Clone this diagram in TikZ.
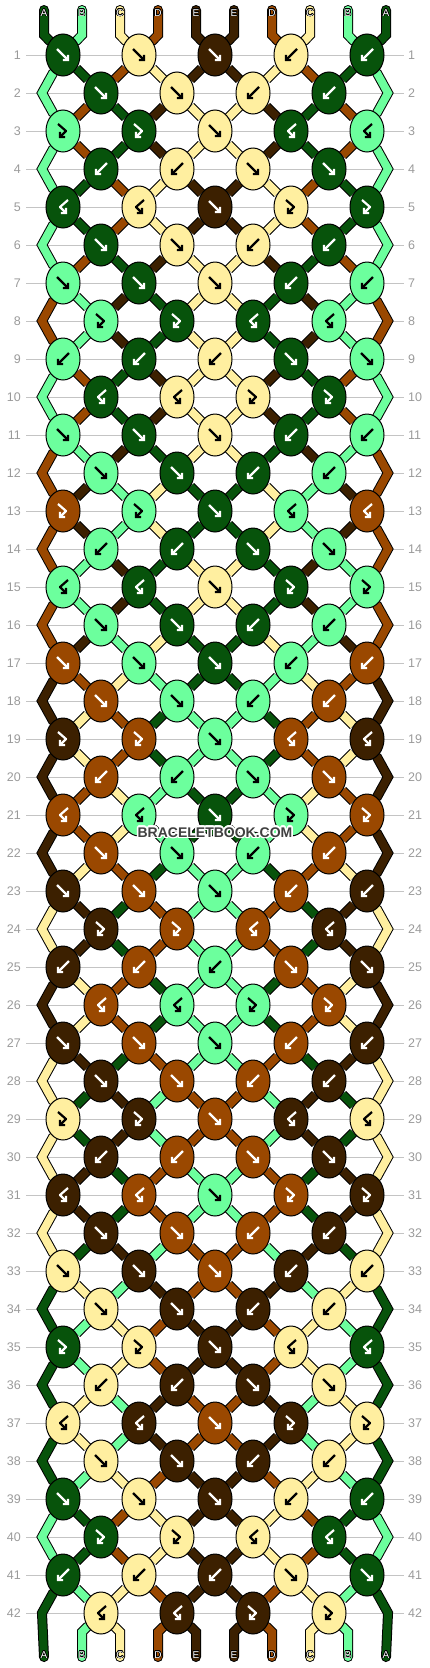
\documentclass[tikz,border=0pt]{standalone}
\usepackage{fontspec}
\setmainfont{Liberation Sans}
\usepackage[copies]{contour}
\usetikzlibrary{shapes.geometric,arrows.meta,backgrounds}

\definecolor{cA}{HTML}{07530B}
\definecolor{cB}{HTML}{6CFF9D}
\definecolor{cC}{HTML}{FFEFA0}
\definecolor{cD}{HTML}{9A4800}
\definecolor{cE}{HTML}{3C2000}
\colorlet{inkA}{white}
\colorlet{inkB}{black}
\colorlet{inkC}{black}
\colorlet{inkD}{white}
\colorlet{inkE}{white}
\definecolor{rowgray}{HTML}{C4C4C4}
\definecolor{numgray}{HTML}{9A9A9A}
\definecolor{logogray}{HTML}{404040}

\tikzset{
  pics/gf/.style={code={\draw[glyph] (-6,-6) -- (6,6);}},
  pics/gb/.style={code={\draw[glyph] (6,-6) -- (-6,6);}},
  pics/gfb/.style={code={\draw[glyph] (-5,-7) -- (3,0) -- (-4,7);}},
  pics/gbf/.style={code={\draw[glyph] (5,-7) -- (-3,0) -- (4,7);}},
}

\begin{document}
\begin{tikzpicture}[x=1pt, y=-1pt,
    knot/.style={ellipse, draw=black, line width=1, minimum width=34, minimum height=42, inner sep=0, fill=c#1},
    strand/.style={draw=black, line width=1, double=c#1, double distance=8},
    glyph/.style={line width=2.2, line join=round, -{Straight Barb[length=3.5pt,width=7.5pt]}},
    rowline/.style={draw=rowgray, line width=1},
    rownum/.style={text=numgray, inner sep=0, font=\fontsize{12.5}{14}\selectfont},
    endlabel/.style={text=white, inner sep=0, font=\fontsize{10}{12}\selectfont},
    logo/.style={text=logogray, inner sep=0, font=\bfseries\fontsize{14}{16}\selectfont}]

\useasboundingbox (0,0) rectangle (430,1668);

% string ends, top and bottom
\foreach \p in {1,...,10} {
  \pgfmathsetmacro\x{44+38*(\p-1)}
  \coordinate (t-\p) at (\x,10);
  \coordinate (u-\p) at (\x,35);
  \coordinate (m-\p) at (\x,1632);
  \coordinate (b-\p) at (\x,1657);
}

% knots in odd rows: colour/type, left half and centre
\foreach \r/\ca/\ta/\cb/\tb/\cc/\tc in {1/A/f/C/f/E/f, 3/B/fb/A/fb/C/f, 5/A/bf/C/bf/E/f,
    7/B/f/A/f/C/f, 9/B/b/A/b/C/b, 11/B/f/A/f/C/f, 13/D/fb/B/fb/A/f, 15/B/bf/A/bf/C/f,
    17/D/f/B/f/A/f, 19/E/fb/D/fb/B/f, 21/D/bf/B/bf/A/f, 23/E/f/D/f/B/f, 25/E/b/D/b/B/b,
    27/E/f/D/f/B/f, 29/C/fb/E/fb/D/f, 31/E/bf/D/bf/B/f, 33/C/f/E/f/D/f, 35/A/fb/C/fb/E/f,
    37/C/bf/E/bf/D/f, 39/A/f/C/f/E/f, 41/A/b/C/b/E/b} {
  \pgfmathsetmacro\y{55+38*(\r-1)}
  \node[knot=\ca] (k-\r-1) at (63,\y) {};
  \node[knot=\cb] (k-\r-2) at (139,\y) {};
  \node[knot=\cc] (k-\r-3) at (215,\y) {};
  \node[knot=\cb] (k-\r-4) at (291,\y) {};
  \node[knot=\ca] (k-\r-5) at (367,\y) {};
  \pic[color=ink\ca] at (k-\r-1) {g\ta};
  \pic[color=ink\cb] at (k-\r-2) {g\tb};
  \pic[color=ink\cc] at (k-\r-3) {g\tc};
  \pic[color=ink\cb, xscale=-1] at (k-\r-4) {g\tb};
  \pic[color=ink\ca, xscale=-1] at (k-\r-5) {g\ta};
}

% knots in even rows
\foreach \r/\ca/\ta/\cb/\tb in {2/A/f/C/f, 4/A/b/C/b, 6/A/f/C/f, 8/B/fb/A/fb, 10/A/bf/C/bf,
    12/B/f/A/f, 14/B/b/A/b, 16/B/f/A/f, 18/D/f/B/f, 20/D/b/B/b, 22/D/f/B/f, 24/E/fb/D/fb,
    26/D/bf/B/bf, 28/E/f/D/f, 30/E/b/D/b, 32/E/f/D/f, 34/C/f/E/f, 36/C/b/E/b, 38/C/f/E/f,
    40/A/fb/C/fb, 42/C/bf/E/bf} {
  \pgfmathsetmacro\y{55+38*(\r-1)}
  \node[knot=\ca] (k-\r-1) at (101,\y) {};
  \node[knot=\cb] (k-\r-2) at (177,\y) {};
  \node[knot=\cb] (k-\r-3) at (253,\y) {};
  \node[knot=\ca] (k-\r-4) at (329,\y) {};
  \coordinate (e-\r-L) at (42,\y);
  \coordinate (e-\r-R) at (388,\y);
  \pic[color=ink\ca] at (k-\r-1) {g\ta};
  \pic[color=ink\cb] at (k-\r-2) {g\tb};
  \pic[color=ink\cb, xscale=-1] at (k-\r-3) {g\tb};
  \pic[color=ink\ca, xscale=-1] at (k-\r-4) {g\ta};
}

\begin{pgfonlayer}{background}
% row lines and numbers
\foreach \r in {1,...,42} {
  \pgfmathsetmacro\y{55+38*(\r-1)}
  \draw[rowline] (26,\y) -- (404,\y);
  \node[rownum, anchor=east] (nl-\r) at (21,\y) {\r};
  \node[rownum, anchor=west] (nr-\r) at (408,\y) {\r};
}

% strands: colour of positions 1-5 after each row (mirrored for 6-10)
\foreach \r/\ua/\ub/\uc/\ud/\ue in {0/A/B/C/D/E, 1/B/A/D/C/E, 2/B/D/A/E/C, 3/B/D/A/E/C,
    4/B/A/D/C/E, 5/B/A/D/C/E, 6/B/D/A/E/C, 7/D/B/E/A/C, 8/D/B/E/A/C, 9/B/D/A/E/C,
    10/B/D/A/E/C, 11/D/B/E/A/C, 12/D/E/B/C/A, 13/D/E/B/C/A, 14/D/B/E/A/C, 15/D/B/E/A/C,
    16/D/E/B/C/A, 17/E/D/C/B/A, 18/E/C/D/A/B, 19/E/C/D/A/B, 20/E/D/C/B/A, 21/E/D/C/B/A,
    22/E/C/D/A/B, 23/C/E/A/D/B, 24/C/E/A/D/B, 25/E/C/D/A/B, 26/E/C/D/A/B, 27/C/E/A/D/B,
    28/C/A/E/B/D, 29/C/A/E/B/D, 30/C/E/A/D/B, 31/C/E/A/D/B, 32/C/A/E/B/D, 33/A/C/B/E/D,
    34/A/B/C/D/E, 35/A/B/C/D/E, 36/A/C/B/E/D, 37/A/C/B/E/D, 38/A/B/C/D/E, 39/B/A/D/C/E,
    40/B/A/D/C/E, 41/A/B/C/D/E, 42/A/B/C/D/E} {
  \pgfmathtruncatemacro\n{\r+1}
  \pgfmathtruncatemacro\nn{\r+2}
  \foreach \p/\s in {1/\ua,2/\ub,3/\uc,4/\ud,5/\ue,6/\ue,7/\ud,8/\uc,9/\ub,10/\ua} {
    \pgfmathtruncatemacro\jo{(\p+1)/2}
    \pgfmathtruncatemacro\je{\p/2}
    \ifnum\r=0
      \draw[strand=\s, line cap=round] (t-\p) -- (u-\p) -- (k-1-\jo);
    \else\ifnum\r=42
      \ifnum\p>1\ifnum\p<10
        \draw[strand=\s, line cap=round] (k-42-\je) -- (m-\p) -- (b-\p);
      \fi\fi
    \else\ifodd\r
      \ifnum\p=1
        \ifnum\r=41 \def\far{b-1}\else\def\far{k-\nn-1}\fi
        \draw[strand=\s, line cap=round] (k-\r-1) -- (e-\n-L) -- (\far);
      \else\ifnum\p=10
        \ifnum\r=41 \def\far{b-10}\else\def\far{k-\nn-5}\fi
        \draw[strand=\s, line cap=round] (k-\r-5) -- (e-\n-R) -- (\far);
      \else
        \draw[strand=\s] (k-\r-\jo) -- (k-\n-\je);
      \fi\fi
    \else
      \ifnum\p>1\ifnum\p<10
        \draw[strand=\s] (k-\r-\je) -- (k-\n-\jo);
      \fi\fi
    \fi\fi\fi
  }
}
\end{pgfonlayer}

% string letters
\foreach \p/\s in {1/A,2/B,3/C,4/D,5/E,6/E,7/D,8/C,9/B,10/A} {
  \pgfmathsetmacro\x{44+38*(\p-1)}
  \node[endlabel] (top-\p) at (\x,13) {\contourlength{0.5pt}\contour{black}{\s}};
  \node[endlabel] (bot-\p) at (\x,1655) {\contourlength{0.5pt}\contour{black}{\s}};
}

\node[logo] (brand) at (215,833) {\contourlength{1.5pt}\contour{white}{BRACELETBOOK.COM}};

\end{tikzpicture}
\end{document}
